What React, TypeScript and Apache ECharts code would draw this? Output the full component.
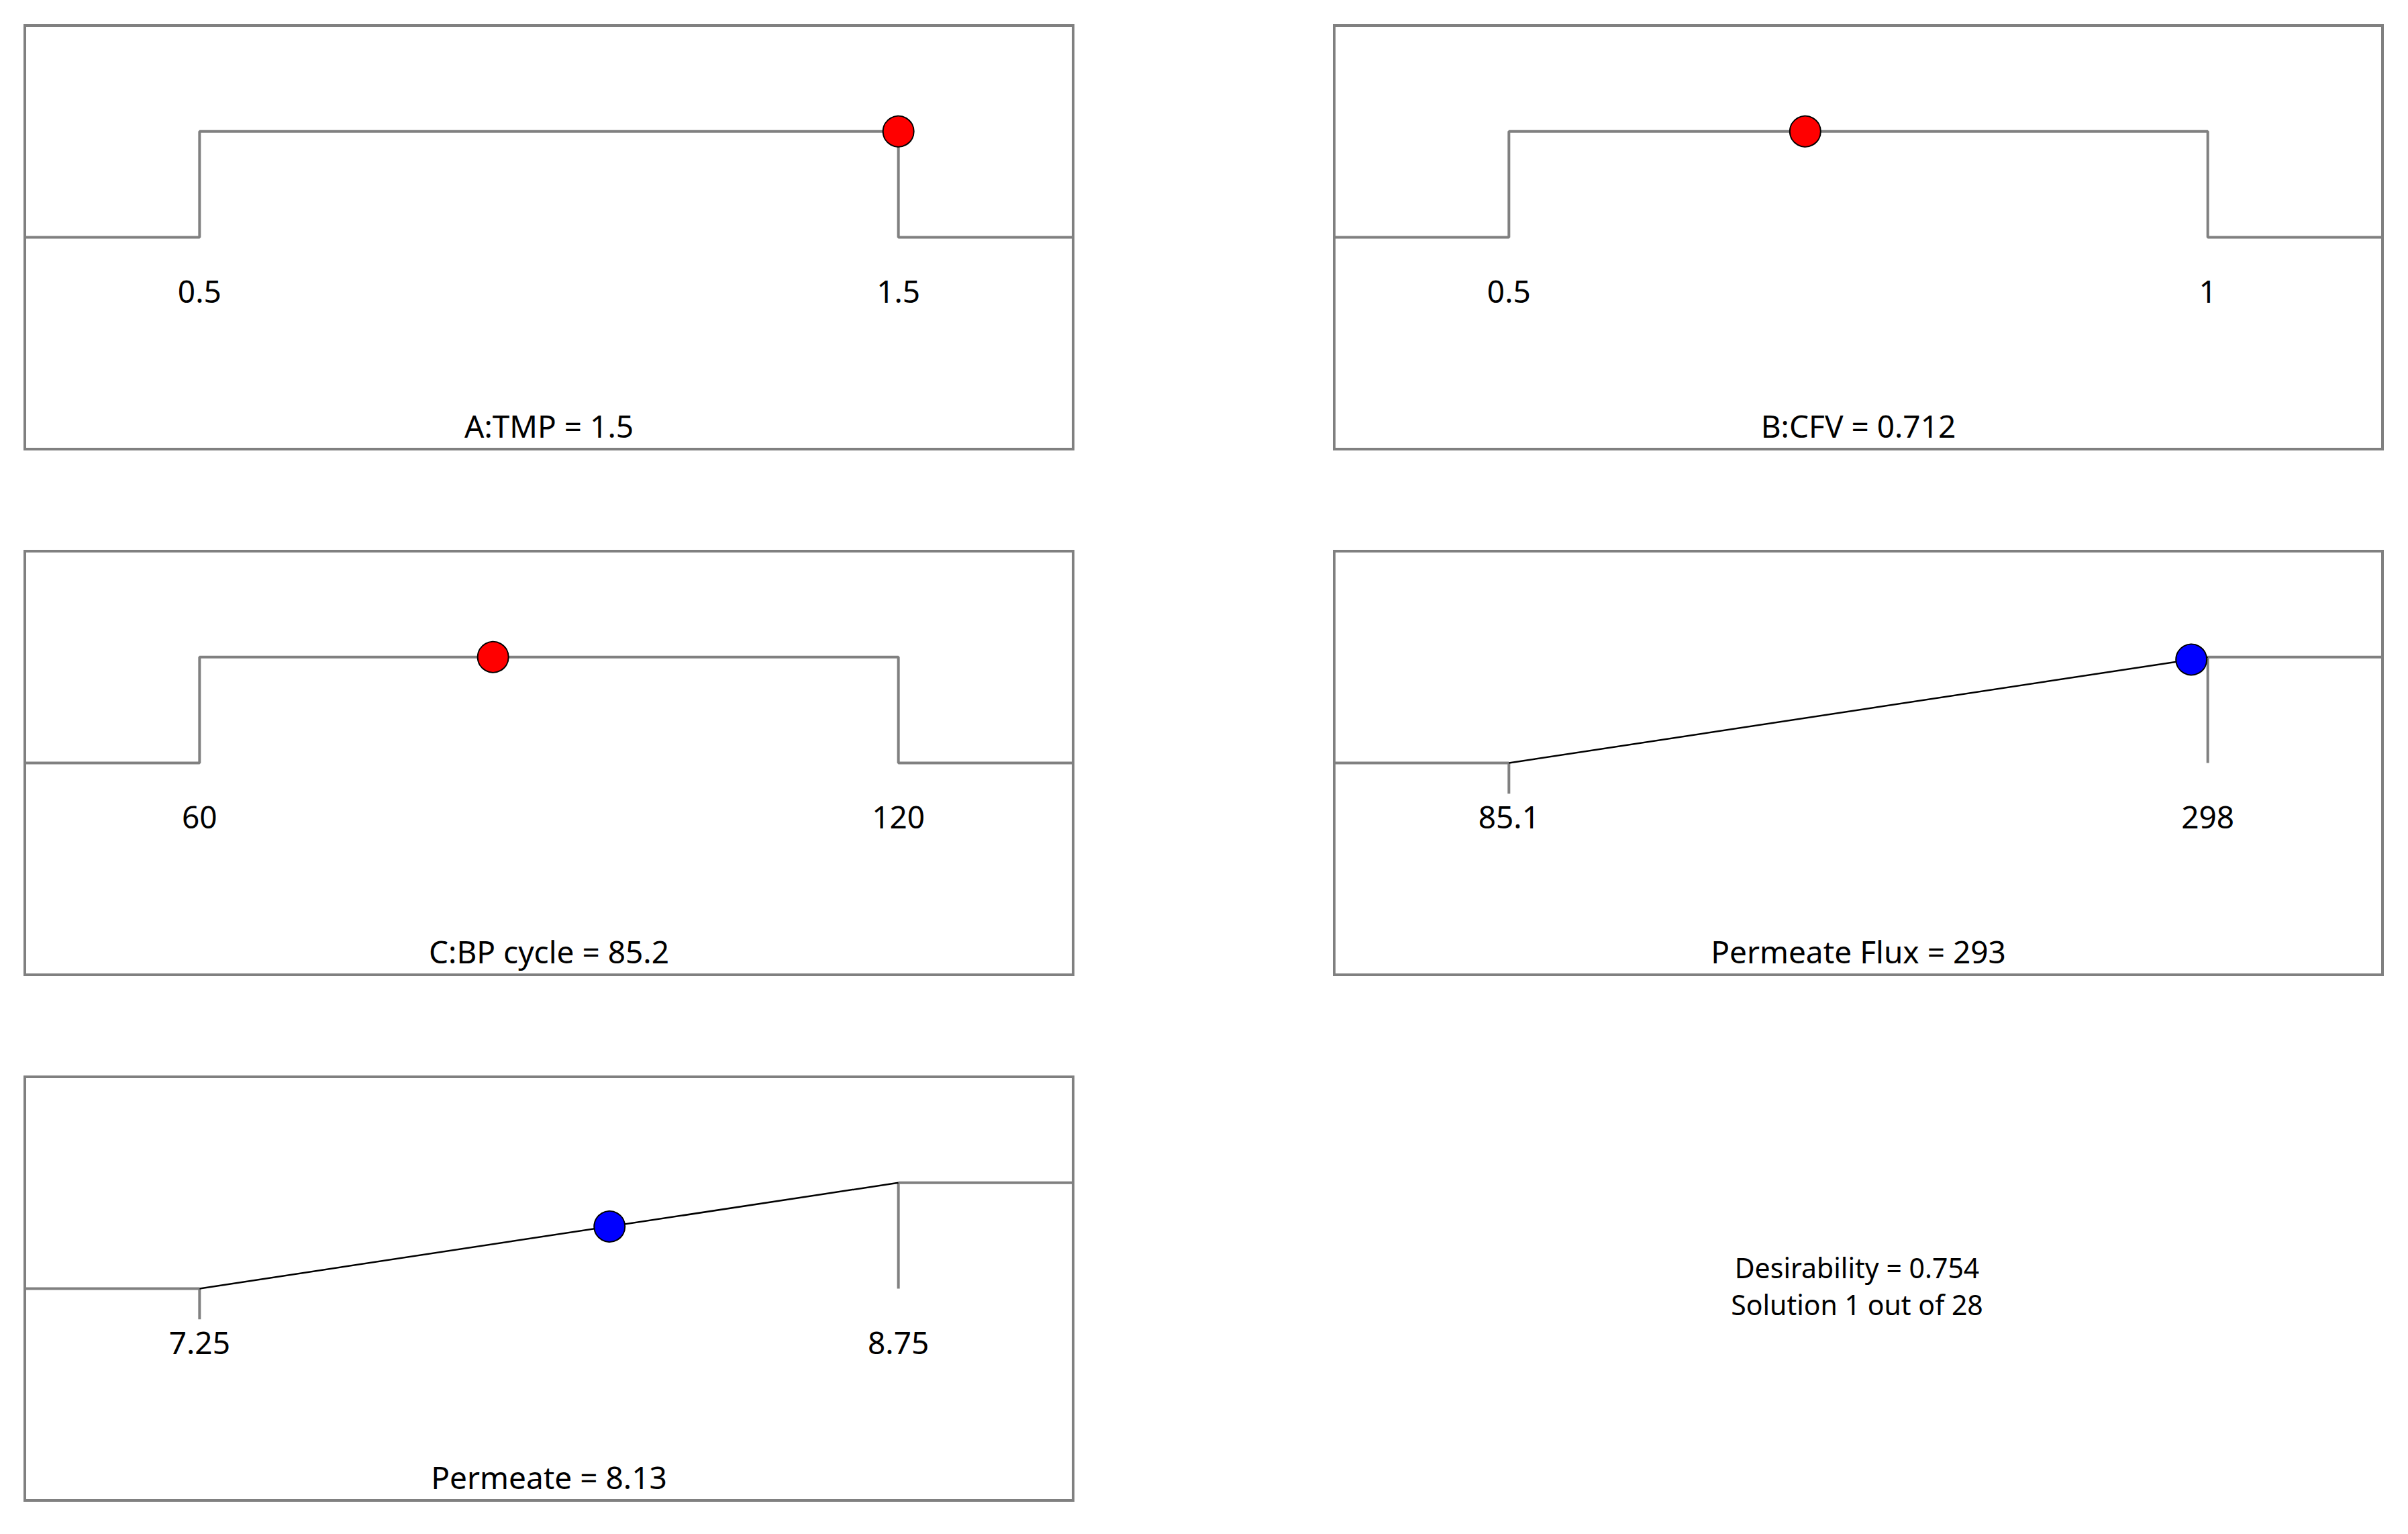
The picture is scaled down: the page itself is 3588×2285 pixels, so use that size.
import React, { useEffect, useRef } from "react";
import * as echarts from "echarts";

// ---- data ----
const factorNames = ["A:TMP", "B:CFV", "C:BP cycle"];
const factorLow = [0.5, 0.5, 60];
const factorHigh = [1.5, 1, 120];
const factorValue = [1.5, 0.712, 85.2];

const responseNames = ["Permeate Flux", "Permeate"];
const responseLow = [85.1, 7.25];
const responseHigh = [298, 8.75];
const responseValue = [293, 8.13];

const desirability = 0.754;
const solutionIndex = 1;
const solutionCount = 28;

// ---- layout ----
const W = 3588;
const H = 2285;
const colLeft = [37, 1988];
const rowTop = [38, 821, 1604];
const boxW = 1562;
const boxH = 631;
const FONT = "'Noto Sans', 'Open Sans', sans-serif";
const GRAY = "#808080";

export default function App() {
  const ref = useRef<HTMLDivElement>(null);

  useEffect(() => {
    if (!ref.current) return;
    const chart = echarts.init(ref.current, null, { renderer: "svg" });

    const panels: any[] = [];
    factorNames.forEach((n, i) => {
      panels.push({ kind: "factor", name: n, low: factorLow[i], high: factorHigh[i], value: factorValue[i] });
    });
    responseNames.forEach((n, i) => {
      panels.push({ kind: "response", name: n, low: responseLow[i], high: responseHigh[i], value: responseValue[i] });
    });
    // panel positions: A, B / C, Flux / Permeate
    const pos = [
      [0, 0],
      [1, 0],
      [0, 1],
      [1, 1],
      [0, 2],
    ];

    const grid: any[] = [];
    const xAxis: any[] = [];
    const yAxis: any[] = [];
    const series: any[] = [];
    const graphic: any[] = [];

    panels.forEach((p, i) => {
      const left = colLeft[pos[i][0]];
      const top = rowTop[pos[i][1]];
      const span = p.high - p.low;
      const min = p.low - 0.25 * span;
      const max = p.high + 0.25 * span;
      grid.push({
        left,
        top,
        width: boxW,
        height: boxH,
        show: true,
        borderColor: GRAY,
        borderWidth: 4,
        backgroundColor: "#fff",
        containLabel: false,
      });
      xAxis.push({
        type: "value",
        gridIndex: i,
        min,
        max,
        axisLine: { show: false },
        axisTick: { show: false },
        splitLine: { show: false },
        axisLabel: {
          show: true,
          customValues: [p.low, p.high],
          inside: true,
          margin: 236,
          verticalAlign: "middle",
          fontSize: 46,
          fontFamily: FONT,
          color: "#000",
          showMinLabel: true,
          showMaxLabel: true,
        },
      });
      yAxis.push({
        type: "value",
        gridIndex: i,
        min: -2,
        max: 2,
        show: false,
        splitLine: { show: false },
      });
      const base = { xAxisIndex: i, yAxisIndex: i, symbol: "none", silent: true };
      const dotStyle = { borderColor: "#000", borderWidth: 2, opacity: 1 };
      if (p.kind === "factor") {
        series.push({
          ...base,
          type: "line",
          data: [
            [min, 0],
            [p.low, 0],
            [p.low, 1],
            [p.high, 1],
            [p.high, 0],
            [max, 0],
          ],
          lineStyle: { color: GRAY, width: 4 },
        });
        series.push({
          type: "scatter",
          xAxisIndex: i,
          yAxisIndex: i,
          data: [[p.value, 1]],
          symbol: "circle",
          symbolSize: 46,
          itemStyle: { color: "#ff0000", ...dotStyle },
          z: 5,
        });
      } else {
        const d = (p.value - p.low) / span;
        series.push({ ...base, type: "line", data: [[min, 0], [p.low, 0]], lineStyle: { color: GRAY, width: 4 } });
        series.push({ ...base, type: "line", data: [[p.high, 1], [max, 1]], lineStyle: { color: GRAY, width: 4 } });
        series.push({ ...base, type: "line", data: [[p.low, 0], [p.low, -0.29]], lineStyle: { color: GRAY, width: 4 } });
        series.push({ ...base, type: "line", data: [[p.high, 1], [p.high, 0]], lineStyle: { color: GRAY, width: 4 } });
        series.push({ ...base, type: "line", data: [[p.low, 0], [p.high, 1]], lineStyle: { color: "#000", width: 2.5 } });
        series.push({
          type: "scatter",
          xAxisIndex: i,
          yAxisIndex: i,
          data: [[p.value, d]],
          symbol: "circle",
          symbolSize: 46,
          itemStyle: { color: "#0000ff", ...dotStyle },
          z: 5,
        });
      }
      graphic.push({
        type: "text",
        x: left + boxW / 2,
        y: top + boxH - 35,
        style: {
          text: `${p.name} = ${p.value}`,
          fontSize: 46,
          fontFamily: FONT,
          fill: "#000",
          align: "center",
          verticalAlign: "middle",
        },
      });
    });

    graphic.push({
      type: "text",
      x: 2767,
      y: 1888,
      style: {
        text: `Desirability = ${desirability}`,
        fontSize: 41,
        fontFamily: FONT,
        fill: "#000",
        align: "center",
        verticalAlign: "middle",
      },
    });
    graphic.push({
      type: "text",
      x: 2767,
      y: 1943,
      style: {
        text: `Solution ${solutionIndex} out of ${solutionCount}`,
        fontSize: 41,
        fontFamily: FONT,
        fill: "#000",
        align: "center",
        verticalAlign: "middle",
      },
    });

    chart.setOption({
      animation: false,
      backgroundColor: "#fff",
      grid,
      xAxis,
      yAxis,
      series,
      graphic,
    });

    return () => chart.dispose();
  }, []);

  return (
    <div
      ref={ref}
      style={{ position: "absolute", left: 0, top: 0, width: W, height: H, background: "#fff" }}
    />
  );
}
